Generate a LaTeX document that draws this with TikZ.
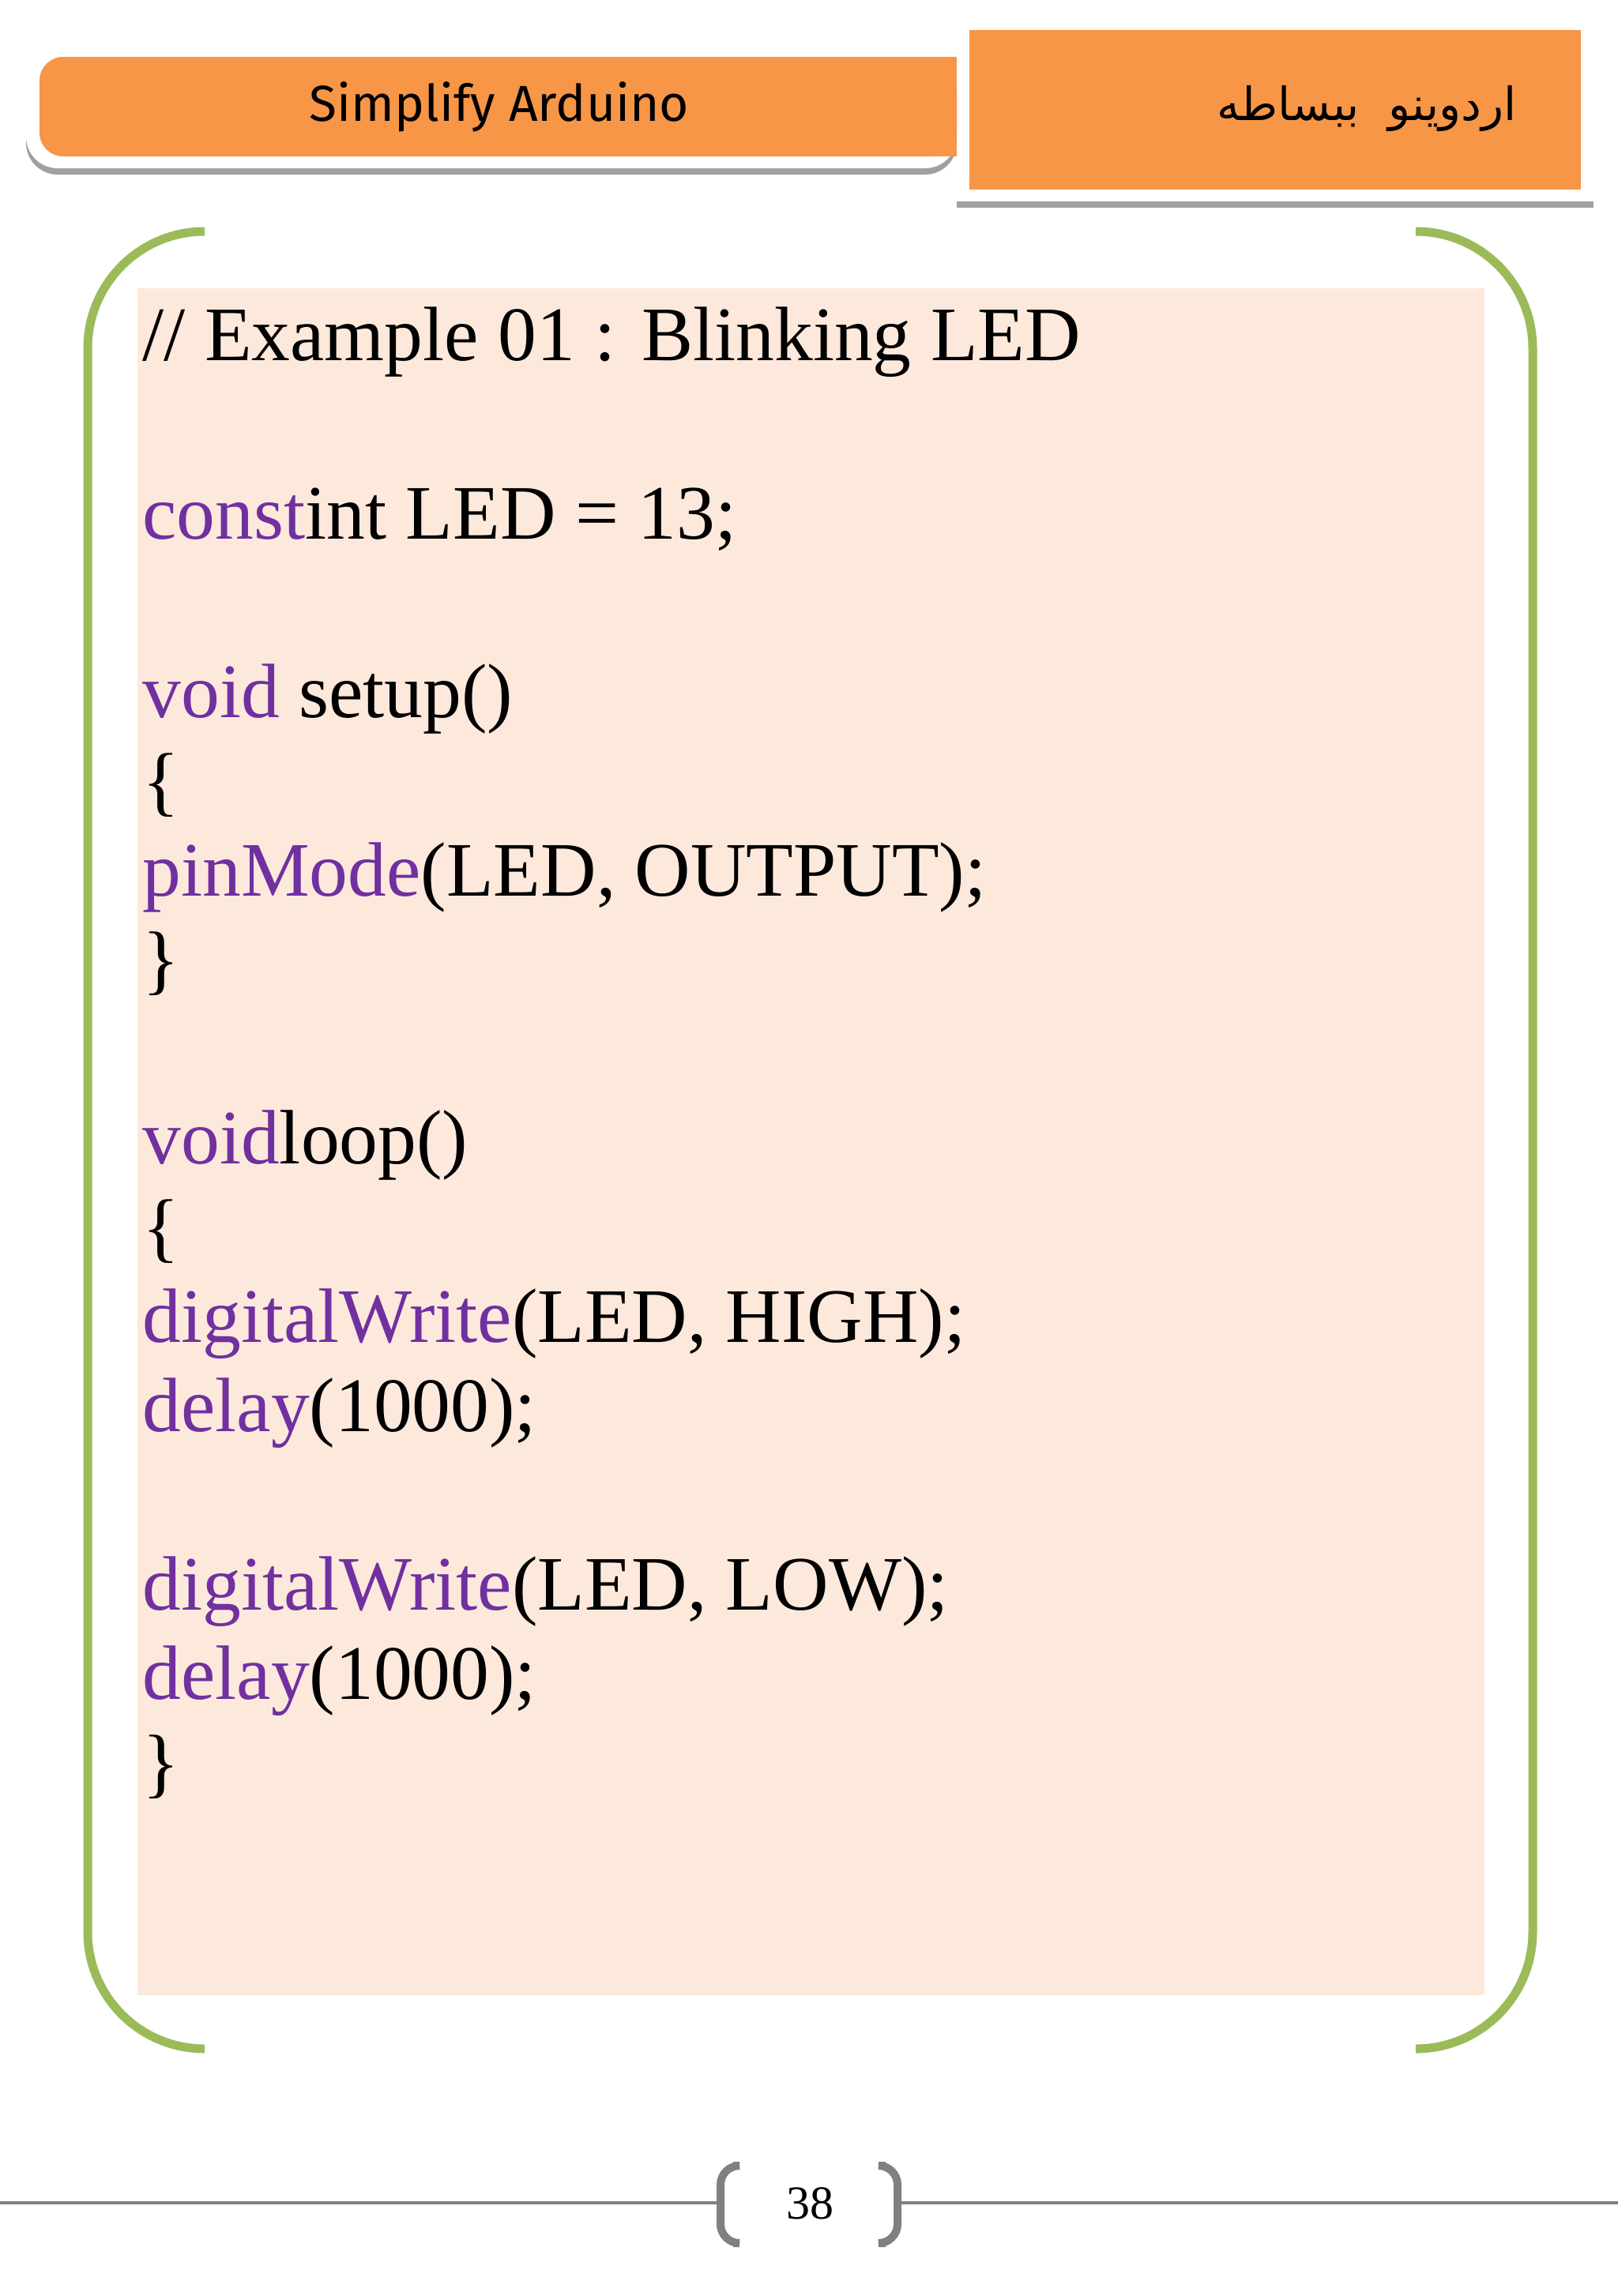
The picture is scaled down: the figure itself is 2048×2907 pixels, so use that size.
\documentclass[tikz,border=0pt]{standalone}
\usepackage{fontspec}
\setmainfont{Liberation Serif}
\newfontfamily\arabicfont[Script=Arabic]{DejaVu Sans}
\newfontfamily\headfont{Fira Sans}
\TeXXeTstate=1
\definecolor{orng}{HTML}{F79646}
\definecolor{shd}{HTML}{A0A0A0}
\definecolor{grn}{HTML}{9BBB59}
\definecolor{pinkbg}{HTML}{FDE9DC}
\definecolor{kw}{HTML}{7030A0}
\definecolor{ftr}{HTML}{808080}
\begin{document}
\begin{tikzpicture}[x=0.5pt,y=-0.5pt,
  code/.style={anchor=mid west,inner sep=0pt,font=\fontsize{48.8}{58}\selectfont},
  brk/.style={draw=grn,line width=5.5pt,rounded corners=74pt},
  fbrk/.style={draw=ftr,line width=5pt,rounded corners=12pt}]
\useasboundingbox[fill=white] (0,0) rectangle (2048,2907);
% header left
\fill[shd,rounded corners=20pt] (33,80) rectangle (1211,221);
\fill[white,rounded corners=20pt] (33,70) rectangle (1211,213);
\fill[orng,rounded corners=15pt] (50,72) -- (1211,72) -- (1211,198) -- (50,198) -- cycle;
\fill[orng] (200,72) rectangle (1211,198);
\node[font=\headfont\fontsize{32}{38}\selectfont] (h1) at (632,135) {Simplify Arduino};
% header right
\fill[shd] (1211,255) rectangle (2017,263);
\fill[orng] (1227,38) rectangle (2001,240);
\node[font=\arabicfont\fontsize{29}{34}\selectfont] (h2) at (1730,138) {\beginR اردوينو\ \ ببساطه\endR};
% panel
\fill[pinkbg] (174,365) rectangle (1879,2526);
\draw[brk] (259,293) -- (111,293) -- (111,2594) -- (259,2594);
\draw[brk] (1794,293) -- (1940,293) -- (1940,2594) -- (1794,2594);
% code
\node[code] (l0) at (180,452) {// Example 01 : Blinking LED};
\node[code] (l2) at (180,678) {\textcolor{kw}{const}int LED = 13;};
\node[code] (l4) at (180,904) {\textcolor{kw}{void} setup()};
\node[code] (l5) at (180,1017) {\{};
\node[code] (l6) at (180,1130) {\textcolor{kw}{pinMode}(LED, OUTPUT);};
\node[code] (l7) at (180,1243) {\}};
\node[code] (l9) at (180,1469) {\textcolor{kw}{void}loop()};
\node[code] (l10) at (180,1582) {\{};
\node[code] (l11) at (180,1695) {\textcolor{kw}{digitalWrite}(LED, HIGH);};
\node[code] (l12) at (180,1808) {\textcolor{kw}{delay}(1000);};
\node[code] (l14) at (180,2034) {\textcolor{kw}{digitalWrite}(LED, LOW);};
\node[code] (l15) at (180,2147) {\textcolor{kw}{delay}(1000);};
\node[code] (l16) at (180,2260) {\}};
% footer
\draw[ftr,line width=2pt] (0,2789) -- (908,2789);
\draw[ftr,line width=2pt] (1140,2789) -- (2048,2789);
\draw[fbrk] (928,2742) -- (912,2742) -- (912,2840) -- (928,2840);
\draw[fbrk] (1121,2742) -- (1136,2742) -- (1136,2840) -- (1121,2840);
\node[font=\fontsize{30}{36}\selectfont] (pg) at (1025,2790) {38};
\end{tikzpicture}
\end{document}
